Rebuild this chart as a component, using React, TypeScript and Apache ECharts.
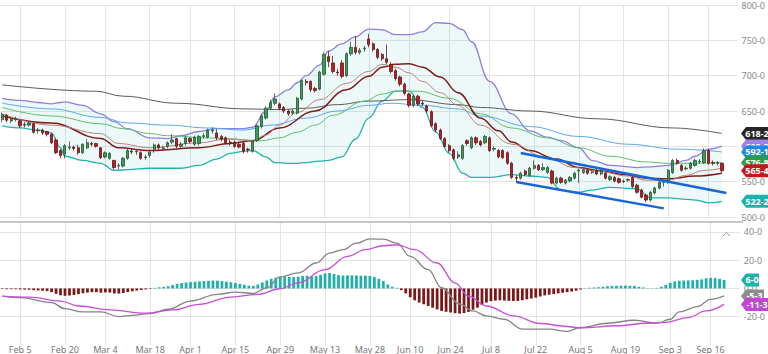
import React, { useEffect, useRef } from 'react';
import * as echarts from 'echarts';

// ---------- calendar ----------
const FIRST_DAY = '2024-01-30';
const DAY_COUNT = 165;
const OFFSET = 4; // category index of Feb 5 (day index 0)
const HOLIDAYS = ['2024-02-19', '2024-03-29', '2024-05-27', '2024-06-19', '2024-07-04', '2024-09-02'];
const TICK_DATES = [
  '2024-02-05', '2024-02-20', '2024-03-04', '2024-03-18', '2024-04-01', '2024-04-15',
  '2024-04-29', '2024-05-13', '2024-05-28', '2024-06-10', '2024-06-24', '2024-07-08',
  '2024-07-22', '2024-08-05', '2024-08-19', '2024-09-03', '2024-09-16',
];
const MONTHS = ['Jan', 'Feb', 'Mar', 'Apr', 'May', 'Jun', 'Jul', 'Aug', 'Sep', 'Oct', 'Nov', 'Dec'];

// ---------- price candles [open, close, low, high], from Jan 30 ----------
const OHLC = [
  [638, 645, 634, 648], [644, 637, 634, 646], [636, 638, 633, 641], [638, 639, 635, 642],
  [636, 629, 626, 638], [631, 630, 627, 634], [630, 633, 628, 636], [632, 620, 618, 634],
  [622, 623, 618, 626], [623, 619, 616, 625], [621, 617, 614, 622], [617, 605, 603, 619],
  [609, 591, 589, 611], [594, 587, 583, 596], [589, 601, 583, 603], [598, 599, 595, 607],
  [599, 597, 594, 601], [598, 591, 588, 602], [591, 603, 589, 604], [598, 605, 596, 610],
  [604, 603, 600, 606], [604, 600, 598, 605], [598, 584, 582, 599], [585, 591, 583, 593],
  [583, 590, 581, 592], [580, 570, 567, 581], [572, 573, 568, 576], [572, 583, 570, 585],
  [583, 594, 581, 597], [593, 592, 589, 597], [592, 593, 588, 596], [591, 583, 581, 593],
  [584, 585, 581, 588], [587, 592, 584, 594], [594, 602, 591, 604], [602, 598, 595, 604],
  [597, 598, 594, 601], [600, 605, 597, 607], [606, 609, 603, 617], [611, 600, 597, 612],
  [600, 603, 598, 606], [604, 612, 601, 614], [611, 607, 604, 613], [603, 613, 601, 615],
  [604, 614, 601, 616], [614, 615, 611, 619], [613, 623, 611, 625], [622, 623, 618, 627],
  [619, 612, 609, 624], [614, 610, 607, 616], [612, 605, 603, 614], [606, 605, 601, 609],
  [606, 600, 598, 608], [603, 599, 597, 605], [604, 593, 590, 606], [596, 595, 591, 598],
  [593, 608, 591, 609], [608, 629, 606, 631], [628, 643, 625, 646], [640, 654, 638, 657],
  [654, 662, 651, 666], [661, 667, 658, 675], [660, 654, 651, 662], [655, 650, 647, 657],
  [650, 646, 643, 652], [647, 650, 644, 653], [647, 668, 645, 670], [667, 693, 665, 695],
  [692, 690, 686, 695], [692, 680, 677, 693], [682, 679, 676, 684], [681, 705, 679, 707],
  [702, 730, 700, 733], [727, 720, 712, 735], [718, 706, 703, 728], [705, 704, 700, 710],
  [718, 699, 696, 722], [700, 731, 698, 733], [731, 740, 728, 748], [740, 733, 730, 756],
  [733, 736, 730, 739], [738, 739, 734, 742], [752, 744, 740, 759], [745, 737, 734, 747],
  [737, 726, 723, 739], [730, 724, 721, 732], [724, 719, 716, 744], [716, 706, 703, 719],
  [707, 696, 693, 710], [698, 688, 685, 700], [688, 675, 672, 690], [674, 658, 655, 676],
  [658, 671, 655, 673], [671, 660, 657, 673], [661, 660, 657, 664], [657, 650, 647, 659],
  [649, 629, 627, 651], [632, 623, 620, 634], [623, 611, 609, 625], [611, 600, 598, 613],
  [601, 594, 591, 603], [595, 583, 580, 597], [585, 588, 582, 593], [583, 601, 581, 603],
  [608, 604, 601, 610], [598, 612, 596, 614], [612, 605, 602, 614], [607, 602, 600, 609],
  [605, 614, 603, 616], [612, 594, 592, 614], [596, 597, 593, 600], [594, 585, 583, 596],
  [594, 584, 582, 596], [591, 576, 574, 593], [576, 556, 554, 578], [556, 555, 549, 559],
  [555, 562, 553, 564], [565, 560, 558, 567], [559, 569, 557, 571], [569, 573, 567, 580],
  [573, 567, 565, 575], [567, 570, 565, 576], [563, 570, 561, 572], [565, 548, 546, 567],
  [548, 555, 546, 557], [555, 549, 547, 557], [548, 552, 546, 554], [551, 556, 549, 558],
  [555, 562, 553, 564], [565, 566, 548, 568], [563, 567, 561, 569], [566, 562, 560, 568],
  [563, 564, 561, 567], [566, 561, 559, 568], [561, 566, 559, 568], [562, 555, 553, 564],
  [553, 557, 551, 559], [556, 551, 549, 558], [554, 549, 547, 556], [550, 551, 548, 553],
  [552, 553, 550, 555], [556, 543, 541, 558], [545, 535, 533, 547], [538, 528, 526, 540],
  [531, 524, 521, 533], [524, 535, 522, 537], [534, 541, 532, 543], [541, 549, 539, 551],
  [549, 551, 543, 553], [549, 566, 547, 568], [563, 580, 561, 582], [580, 576, 574, 583],
  [573, 566, 564, 575], [568, 569, 566, 572], [569, 576, 567, 578], [573, 580, 571, 582],
  [578, 579, 575, 582], [577, 594, 575, 597], [594, 576, 574, 596], [577, 576, 573, 580],
  [576, 577, 573, 579], [576, 565.4, 563, 577],
];

// ---------- Bollinger bands (day index, upper, lower) ----------
const BB_IDX = [-4, 0, 4, 7, 9, 10, 14, 18, 21, 24, 29, 33, 36, 40, 44, 47, 50, 52, 55, 57, 60, 62, 64, 67, 69, 72, 75, 78, 81, 84, 87, 90, 93, 96, 99, 101, 105, 110, 114, 118, 121, 125, 128, 132, 138, 141, 145, 149, 151, 154, 157];
const BB_UPPER = [668, 665, 662, 660, 662, 663, 658, 646, 635, 625, 612, 611, 615, 621, 625, 625, 625, 627, 650, 670, 680, 690, 700, 715, 735, 745, 755, 766, 765, 758, 758, 762, 775, 774, 765, 748, 692, 646, 622, 613, 608, 598, 580, 573, 570, 571, 573, 580, 586, 596, 600.3];
const BB_LOWER = [629, 626, 623, 619, 598, 586, 580, 576, 566, 567, 569, 569, 569, 573, 582, 590, 593, 594, 585, 577, 576, 576, 577, 579, 580, 585, 610, 640, 664, 678, 678, 655, 620, 590, 562, 556, 556, 560, 558, 556, 538, 535, 538, 542, 540, 527, 527, 525, 524, 520, 522.2];

// ---------- moving averages [day index, value] ----------
const MA_LONG = [[-4, 687], [17, 678], [23, 671], [35, 661], [50, 653], [58, 652], [64, 654], [71, 659], [78, 664], [87, 666], [98, 659], [103, 655], [114, 650], [129, 639], [146, 626], [157, 618.2]];
const MA_MID = [[-4, 661], [7, 653], [18, 641], [24, 633], [33, 630], [42, 626], [50, 623], [56, 630], [64, 640], [71, 650], [78, 658], [83, 661], [90, 658], [98, 653], [103, 643], [114, 628], [125, 614], [136, 603], [147, 596], [157, 592.1]];
const MA_50 = [[-4, 655], [7, 643], [18, 632], [23, 625], [29, 618], [33, 615], [42, 612], [50, 609], [54, 608], [58, 612], [62, 620], [66, 630], [70, 644], [77, 664], [81, 674], [84, 678], [89, 678], [96, 668], [103, 646], [110, 626], [118, 612], [125, 598], [132, 586], [140, 578], [145, 576], [151, 576], [157, 576.8]];
const MA_20 = [[-4, 643], [7, 633], [18, 611], [22, 598], [29, 594], [40, 598], [47, 604], [52, 608], [58, 626], [66, 650], [73, 680], [78, 699], [81, 712], [84, 716], [87, 717], [90, 712], [94, 698], [98, 676], [103, 640], [107, 622], [110, 606], [114, 594], [120, 582], [125, 570], [130, 565], [135, 560], [140, 555], [145, 554], [151, 558], [157, 562]];
const MA_FAST = [[-4, 646], [7, 630], [18, 618], [22, 604], [29, 598], [40, 605], [47, 611], [52, 608], [55, 616], [58, 630], [62, 648], [67, 666], [73, 689], [78, 706], [81, 716], [84, 712], [87, 704], [90, 692], [94, 676], [98, 658], [103, 630], [110, 603], [118, 583], [124, 570], [129, 565], [136, 558], [140, 552], [145, 552], [149, 559], [153, 566], [157, 569]];

// ---------- trend channel [day index, price] ----------
const CHANNEL_UPPER = [[112, 590.5], [158, 534]];
const CHANNEL_LOWER = [[111, 549.5], [144, 512.2]];

// ---------- MACD ----------
const MACD_LINE = [[-4, -5.4], [0, -6.5], [7, -10], [10, -14.3], [14, -16.6], [18, -16.6], [22, -19.9], [25, -19], [29, -17.8], [33, -14.7], [38, -8.9], [44, -4.2], [48, -2.6], [52, -3.5], [55, 0.5], [58, 8.2], [62, 11], [66, 18], [69, 25], [72, 27.4], [75, 32], [78, 35], [81, 34.9], [84, 32], [87, 22.7], [91, 13.3], [94, 0.5], [98, -11], [101, -15.9], [104, -19.4], [108, -21.8], [112, -28.8], [118, -28.8], [122, -30.4], [125, -27.6], [131, -24.6], [137, -22.5], [142, -24.6], [145, -21.8], [147, -16.6], [151, -12.9], [154, -7.7], [157, -5.3]];
const SIGNAL_LINE = [[-4, -5.4], [2, -6.1], [9, -8.9], [13, -12.4], [20, -15.2], [28, -17.5], [34, -15.2], [40, -11.2], [47, -6.1], [53, -4.2], [58, -0.2], [62, 4], [68, 13.3], [73, 22.7], [77, 27.4], [81, 30.2], [84, 30.9], [88, 27.4], [93, 18], [97, 4], [100, -5.4], [104, -12.4], [110, -19.4], [116, -24.8], [122, -26.9], [125, -28], [133, -26.4], [140, -24.6], [144, -24], [149, -20.6], [153, -15.9], [157, -11.3]];
const HIST = [
  -0.4, -0.5, -0.5, -0.6, -0.7, -0.8, -0.9, -1.2, -1.4, -1.6, -1.9, -2.6, -3.8, -4.8, -5.2, -5.0,
  -4.6, -4.0, -3.4, -2.9, -2.6, -2.6, -3.0, -2.8, -2.9, -3.5, -3.6, -3.2, -2.5, -2.0, -1.5, -1.1,
  -0.7, -0.3, 0.4, 0.8, 1.1, 1.6, 2.4, 3.2, 3.8, 4.2, 4.5, 4.8, 5.0, 5.2, 5.4, 5.6,
  5.5, 5.2, 4.8, 4.4, 3.8, 3.2, 2.6, 2.0, 1.8, 2.8, 4.2, 5.6, 6.8, 7.6, 8.2, 8.3,
  8.1, 8.0, 8.3, 8.8, 9.0, 8.6, 8.9, 9.6, 10.6, 10.9, 10.2, 9.4, 9.1, 9.2, 9.3, 9.2,
  9.0, 9.1, 8.8, 8.2, 6.8, 5.2, 2.8, 1.2, 0.5, -1.2, -3.5, -6.2, -8.4, -10.0, -11.2, -12.4,
  -13.6, -14.8, -15.9, -16.5, -17.0, -17.5, -17.8, -17.4, -16.6, -15.0, -13.6, -11.6, -10.0, -9.0, -8.6, -8.4,
  -8.6, -8.8, -8.9, -8.8, -8.3, -7.7, -7.1, -6.5, -5.7, -4.9, -4.4, -4.0, -3.5, -3.0, -2.6, -2.2,
  -1.6, -0.7, 0.2, 0.5, 0.7, 0.9, 1.2, 1.6, 1.8, 1.9, 2.0, 2.0, 1.9, 1.8, 1.2, 0.7,
  0.3, 0.2, 0.4, 1.2, 2.6, 4.0, 5.0, 5.5, 5.6, 5.7, 5.8, 6.1, 6.4, 7.2, 7.5, 7.3,
  6.8, 6.0,
];

const FONT = '"Noto Sans", "Open Sans", sans-serif';
const fmt = (v: number) => v.toFixed(1).replace('.', '-');

function buildDays(): string[] {
  const out: string[] = [];
  const d = new Date(FIRST_DAY + 'T00:00:00Z');
  while (out.length < DAY_COUNT) {
    const iso = d.toISOString().slice(0, 10);
    const wd = d.getUTCDay();
    if (wd !== 0 && wd !== 6 && HOLIDAYS.indexOf(iso) < 0) out.push(iso);
    d.setUTCDate(d.getUTCDate() + 1);
  }
  return out;
}

const toCat = (pts: number[][]) => pts.map(([i, v]) => [i + OFFSET, v]);

export default function App() {
  const ref = useRef<HTMLDivElement>(null);

  useEffect(() => {
    if (!ref.current) return;
    const chart = echarts.init(ref.current, null, { renderer: 'svg' });
    const days = buildDays();
    const tickSet = new Set(TICK_DATES);
    const tickInterval = (_i: number, v: string) => tickSet.has(v);
    const dateLabel = (v: string) => {
      const p = v.split('-');
      return MONTHS[+p[1] - 1] + ' ' + +p[2];
    };

    const lineSeries = (name: string, pts: number[][], color: string, width: number, z = 3) => ({
      name, type: 'line', data: toCat(pts), xAxisIndex: 0, yAxisIndex: 0,
      smooth: 0.4, smoothMonotone: 'x', showSymbol: false, symbol: 'none', z,
      lineStyle: { color, width }, silent: true,
    });

    const xCommon = {
      type: 'category', data: days, boundaryGap: true,
      axisLine: { show: false }, axisTick: { show: false },
      splitLine: { show: true, interval: tickInterval, alignWithLabel: true, lineStyle: { color: '#e3e3e3', width: 1 } },
    };

    const option: any = {
      animation: false,
      backgroundColor: '#ffffff',
      grid: [
        { left: 0, right: 25, top: 3, height: 214 },
        { left: 0, right: 25, top: 222, height: 124 },
      ],
      xAxis: [
        { ...xCommon, gridIndex: 0, axisLabel: { show: false } },
        {
          ...xCommon, gridIndex: 1,
          axisLabel: { show: true, interval: tickInterval, formatter: dateLabel, color: '#777', fontSize: 9, margin: -1, lineHeight: 10, fontFamily: FONT },
        },
      ],
      yAxis: [
        {
          type: 'value', gridIndex: 0, position: 'right', min: 500, max: 800, interval: 50,
          axisLine: { show: false }, axisTick: { show: false },
          axisLabel: { formatter: fmt, color: '#8a8a8a', fontSize: 9, margin: 4, lineHeight: 10, fontFamily: FONT },
          splitLine: { lineStyle: { color: '#e3e3e3' } },
        },
        {
          type: 'value', gridIndex: 1, position: 'right', min: -40, max: 47, interval: 20,
          axisLine: { show: false }, axisTick: { show: false },
          axisLabel: {
            formatter: (v: number) => ([40, 20, 0, -20].indexOf(v) >= 0 ? fmt(v) : ''),
            color: '#8a8a8a', fontSize: 9, margin: 4, fontFamily: FONT,
          },
          splitLine: { showMinLine: false, showMaxLine: false, lineStyle: { color: '#e3e3e3' } },
        },
      ],
      series: [
        {
          name: 'bbLower', type: 'line', stack: 'bb', xAxisIndex: 0, yAxisIndex: 0,
          data: BB_IDX.map((i, n) => [i + OFFSET, BB_LOWER[n]]),
          smooth: 0.4, smoothMonotone: 'x', symbol: 'none', z: 1, silent: true,
          lineStyle: { color: '#20b3ad', width: 1.3 },
        },
        {
          name: 'bbUpper', type: 'line', stack: 'bb', xAxisIndex: 0, yAxisIndex: 0,
          data: BB_IDX.map((i, n) => [i + OFFSET, +(BB_UPPER[n] - BB_LOWER[n]).toFixed(2)]),
          smooth: 0.4, smoothMonotone: 'x', symbol: 'none', z: 1, silent: true,
          lineStyle: { color: '#8e7fe3', width: 1.3 },
          areaStyle: { color: 'rgba(40,180,175,0.12)' },
        },
        lineSeries('ma200', MA_LONG, '#5a5a5a', 1),
        lineSeries('ma100', MA_MID, '#5aa8f0', 1),
        lineSeries('ma50', MA_50, '#5cbf6c', 1),
        lineSeries('ma20', MA_20, '#7d1d1d', 1.5),
        lineSeries('ema', MA_FAST, '#bb8080', 1),
        {
          name: 'price', type: 'candlestick', xAxisIndex: 0, yAxisIndex: 0, z: 5,
          data: OHLC, barWidth: '62%',
          itemStyle: { color: '#2ea24d', color0: '#c8161d', borderColor: '#2f4f3a', borderColor0: '#5a1a1a', borderWidth: 0.8 },
        },
        {
          name: 'chanUp', type: 'line', data: toCat(CHANNEL_UPPER), xAxisIndex: 0, yAxisIndex: 0,
          symbol: 'none', z: 6, lineStyle: { color: '#1766d8', width: 2.5 }, silent: true,
        },
        {
          name: 'chanLo', type: 'line', data: toCat(CHANNEL_LOWER), xAxisIndex: 0, yAxisIndex: 0,
          symbol: 'none', z: 6, lineStyle: { color: '#1766d8', width: 2.5 }, silent: true,
        },
        {
          name: 'hist', type: 'bar', xAxisIndex: 1, yAxisIndex: 1, barWidth: '62%', z: 2,
          data: HIST.map((v) => ({ value: v, itemStyle: { color: v >= 0 ? '#1fb0aa' : '#7b1717' } })),
        },
        {
          name: 'macd', type: 'line', xAxisIndex: 1, yAxisIndex: 1, data: toCat(MACD_LINE),
          smooth: 0.4, smoothMonotone: 'x', symbol: 'none', z: 3, lineStyle: { color: '#858585', width: 1.3 },
        },
        {
          name: 'signal', type: 'line', xAxisIndex: 1, yAxisIndex: 1, data: toCat(SIGNAL_LINE),
          smooth: 0.4, smoothMonotone: 'x', symbol: 'none', z: 3, lineStyle: { color: '#c84fd8', width: 1.3 },
        },
      ],
    };
    chart.setOption(option);

    // price tags on the right edge
    const last = (a: number[][]) => a[a.length - 1][1];
    const mainTags = [
      { v: last(MA_LONG), c: '#262626' },
      { v: BB_UPPER[BB_UPPER.length - 1], c: '#9a82e8' },
      { v: last(MA_MID), c: '#1e88e5' },
      { v: last(MA_50), c: '#2e9b3f' },
      { v: OHLC[OHLC.length - 1][1], c: '#c8161d' },
      { v: BB_LOWER[BB_LOWER.length - 1], c: '#19b2ac' },
    ];
    const macdTags = [
      { v: HIST[HIST.length - 1], c: '#19b2ac' },
      { v: last(MACD_LINE), c: '#8c8c8c' },
      { v: last(SIGNAL_LINE), c: '#c444d4' },
    ];
    const els: any[] = [];
    let zc = 100;
    const addTag = (v: number, c: string, axis: number) => {
      const y = chart.convertToPixel({ yAxisIndex: axis } as any, v) as unknown as number;
      const text = fmt(v);
      const x0 = 741;
      const w = 3 + text.length * 5;
      const h = 6.5;
      els.push({
        type: 'polygon', z: zc++, silent: true,
        shape: { points: [[x0, y], [x0 + 5, y - h], [x0 + w, y - h], [x0 + w, y + h], [x0 + 5, y + h]] },
        style: { fill: c },
      });
      els.push({
        type: 'text', z: zc++, silent: true, x: x0 + 4 + (w - 4) / 2, y,
        style: { text, fill: '#ffffff', font: `bold 9px ${FONT}`, align: 'center', verticalAlign: 'middle' },
      });
    };
    mainTags.forEach((t) => addTag(t.v, t.c, 0));
    macdTags.forEach((t) => addTag(t.v, t.c, 1));
    els.push({ type: 'line', z: 50, silent: true, shape: { x1: 0, y1: 222, x2: 743, y2: 222 }, style: { stroke: '#b4b4b4', lineWidth: 1.5 } });
    els.push({ type: 'polyline', z: 50, silent: true, shape: { points: [[723, 236], [726.5, 232.5], [730, 236]] }, style: { stroke: '#999', lineWidth: 1, fill: null } });
    chart.setOption({ graphic: els });

    return () => chart.dispose();
  }, []);

  return (
    <div
      ref={ref}
      style={{ position: 'absolute', left: 0, top: 0, width: 768, height: 354, background: '#fff' }}
    />
  );
}
